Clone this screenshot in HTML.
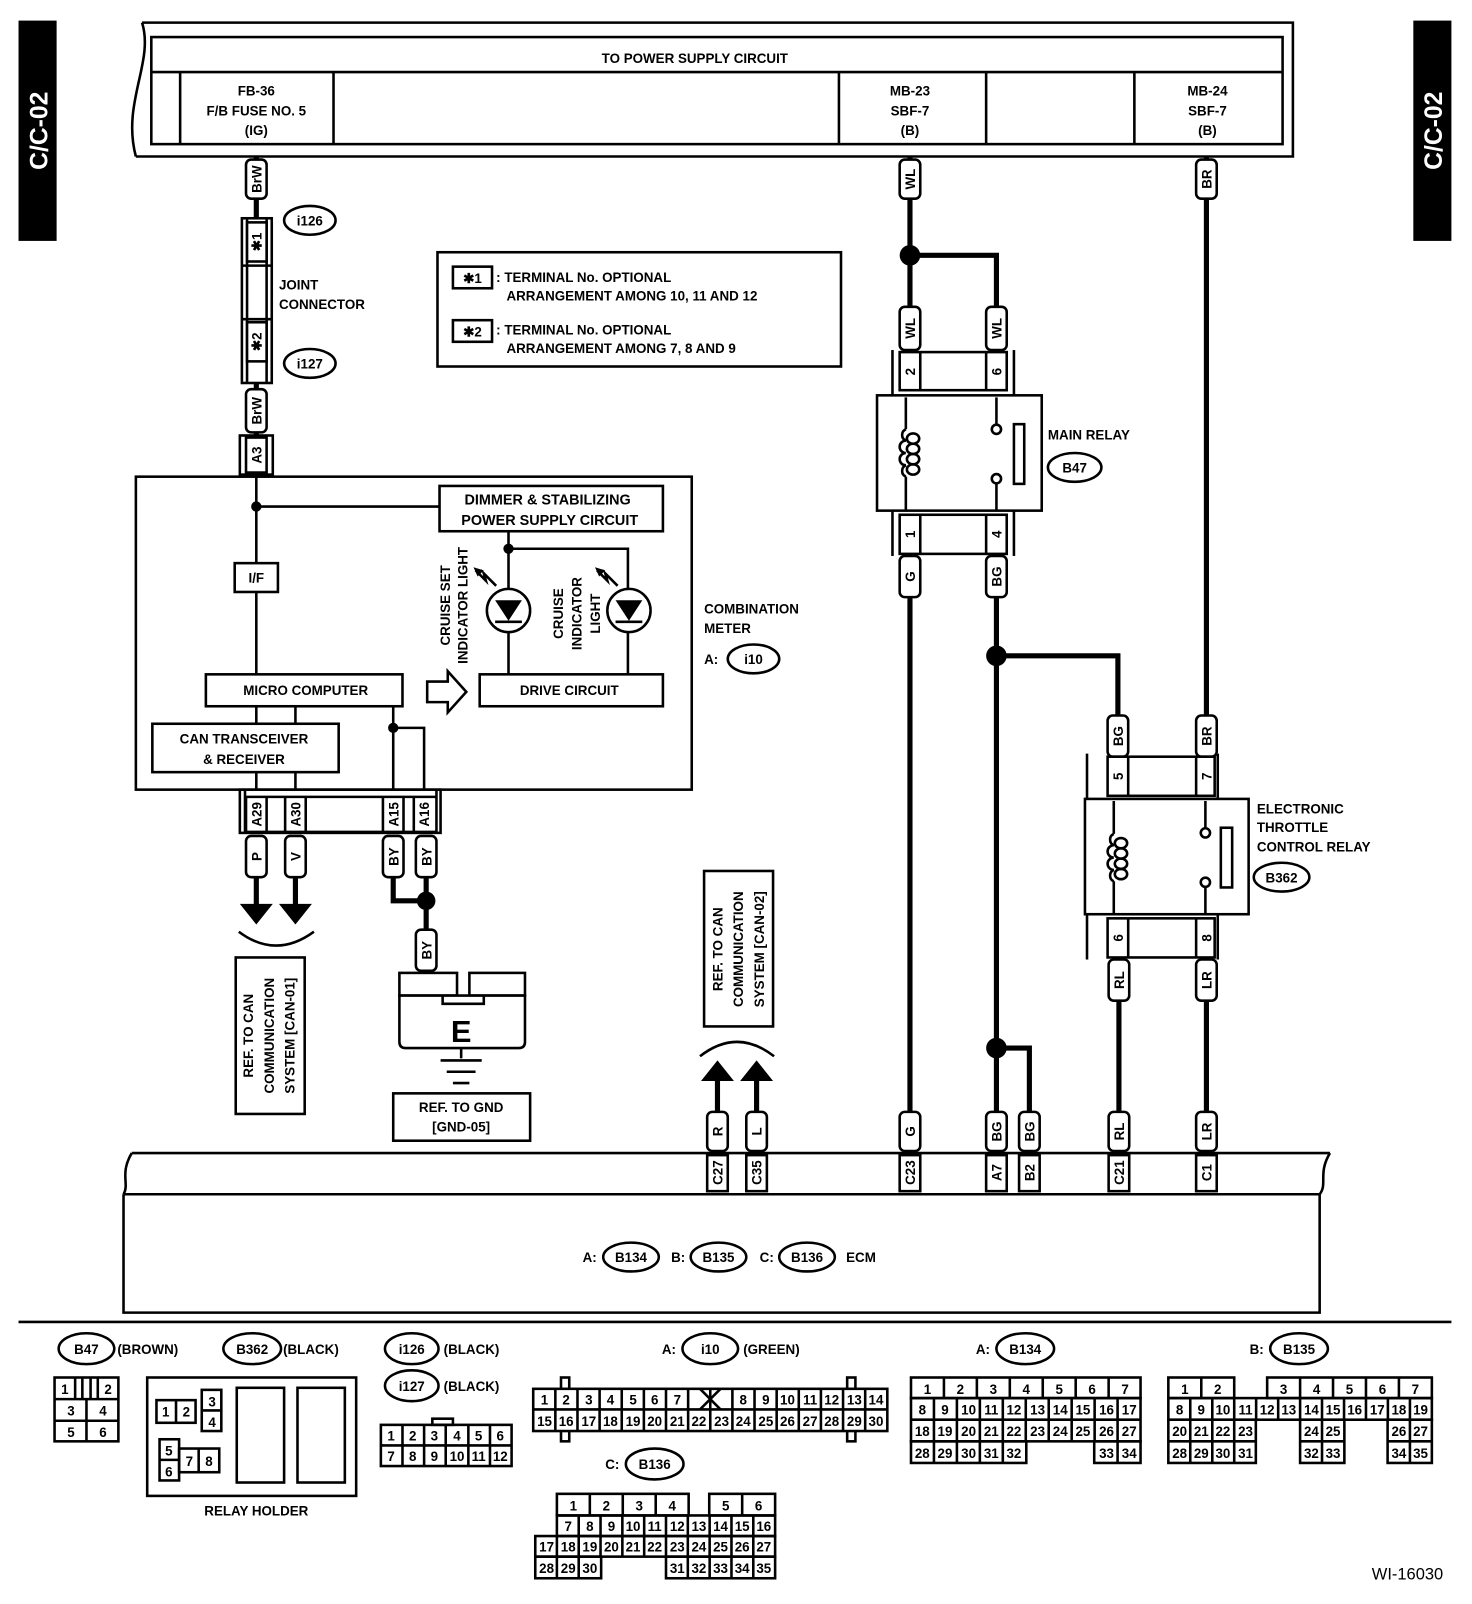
<!DOCTYPE html>
<html><head><meta charset="utf-8"><style>
html,body{margin:0;padding:0;background:#fff}
svg{display:block}
text{font-family:"Liberation Sans",sans-serif;font-weight:bold;font-size:14px;fill:#000}
.s{font-size:13px}
.m{text-anchor:middle}
.w{fill:#fff;font-size:24px}
.b{fill:none;stroke:#000;stroke-width:2.5}
.tg{fill:#fff;stroke:#000;stroke-width:2.5}
.wr{fill:none;stroke:#000;stroke-width:5}
.tn{fill:none;stroke:#000;stroke-width:2.5}
</style></head><body>
<svg width="1472" height="1604" viewBox="0 0 1430 1558" preserveAspectRatio="none" xmlns="http://www.w3.org/2000/svg">
<rect x="18" y="20" width="37" height="214" fill="#000"/>
<text class="w m" transform="translate(46,127) rotate(-90)">C/C-02</text>
<rect x="1373" y="20" width="37" height="214" fill="#000"/>
<text class="w m" transform="translate(1401,127) rotate(-90)">C/C-02</text>

<path d="M138,22 L1256,22 L1256,152 L132,152" class="b" stroke-width="3"/>
<path d="M138,22 C150,60 118,100 132,152" class="b" stroke-width="2"/>
<rect x="147" y="36" width="1099" height="104" class="b" stroke-width="3"/>
<line x1="147" y1="70" x2="1246" y2="70" class="b" stroke-width="3"/>
<g class="b"><line x1="175" y1="70" x2="175" y2="140"/><line x1="324" y1="70" x2="324" y2="140"/><line x1="815" y1="70" x2="815" y2="140"/><line x1="958" y1="70" x2="958" y2="140"/><line x1="1102" y1="70" x2="1102" y2="140"/></g>
<text class="s m" x="675" y="61">TO POWER SUPPLY CIRCUIT</text>
<text class="s m" x="249" y="93">FB-36</text><text class="s m" x="249" y="112">F/B FUSE NO. 5</text><text class="s m" x="249" y="131">(IG)</text>
<text class="s m" x="884" y="93">MB-23</text><text class="s m" x="884" y="112">SBF-7</text><text class="s m" x="884" y="131">(B)</text>
<text class="s m" x="1173" y="93">MB-24</text><text class="s m" x="1173" y="112">SBF-7</text><text class="s m" x="1173" y="131">(B)</text>

<line x1="249" y1="152" x2="249" y2="463" class="wr" stroke-width="4"/>
<rect x="239" y="155" width="20" height="38" rx="5" class="tg"/>
<text class="s m" transform="translate(254,174) rotate(-90)">BrW</text>
<rect x="235" y="212" width="29" height="160" class="tg"/>
<line x1="240" y1="212" x2="240" y2="372" class="tn"/><line x1="259" y1="212" x2="259" y2="372" class="tn"/>
<rect x="240" y="216" width="19" height="38" class="tg" stroke-width="3"/>
<text class="s m" transform="translate(254,235) rotate(-90)">✱1</text>
<line x1="235" y1="258" x2="264" y2="258" class="tn"/><line x1="235" y1="310" x2="264" y2="310" class="tn"/>
<rect x="240" y="313" width="19" height="38" class="tg" stroke-width="3"/>
<text class="s m" transform="translate(254,332) rotate(-90)">✱2</text>
<ellipse cx="301" cy="214" rx="25" ry="14" class="b"/><text class="s m" x="301" y="219">i126</text>
<ellipse cx="301" cy="353" rx="25" ry="14" class="b"/><text class="s m" x="301" y="358">i127</text>
<text class="s" x="271" y="281">JOINT</text><text class="s" x="271" y="300">CONNECTOR</text>
<rect x="239" y="378" width="20" height="42" rx="5" class="tg"/>
<text class="s m" transform="translate(254,399) rotate(-90)">BrW</text>
<rect x="233" y="423" width="32" height="38" class="tg"/>
<rect x="239" y="425" width="20" height="34" class="tg"/>
<text class="s m" transform="translate(254,442) rotate(-90)">A3</text>

<rect x="425" y="245" width="392" height="111" class="b" stroke-width="2.5"/>
<rect x="440" y="259" width="38" height="21" class="b" stroke-width="3"/><text class="s m" x="459" y="275">✱1</text>
<text class="s" x="482" y="274">: TERMINAL No. OPTIONAL</text><text class="s" x="492" y="292">ARRANGEMENT AMONG 10, 11  AND 12</text>
<rect x="440" y="311" width="38" height="21" class="b" stroke-width="3"/><text class="s m" x="459" y="327">✱2</text>
<text class="s" x="482" y="325">: TERMINAL No. OPTIONAL</text><text class="s" x="492" y="343">ARRANGEMENT AMONG 7, 8  AND 9</text>

<rect x="132" y="463" width="540" height="304" class="b" stroke-width="2.5"/>
<g class="tn">
<line x1="249" y1="461" x2="249" y2="655"/><line x1="249" y1="492" x2="427" y2="492"/>
<line x1="249" y1="686" x2="249" y2="767"/><line x1="287" y1="686" x2="287" y2="767"/>
<line x1="382" y1="686" x2="382" y2="767"/><polyline points="382,707 412,707 412,767"/>
<line x1="494" y1="516" x2="494" y2="655"/><polyline points="494,533 610,533 610,655"/>
</g>
<circle cx="249" cy="492" r="5"/><circle cx="382" cy="707" r="5"/><circle cx="494" cy="533" r="5"/>
<rect x="427" y="472" width="217" height="44" class="tg"/>
<text class="m" x="532" y="490">DIMMER &amp; STABILIZING</text><text class="m" x="534" y="510">POWER SUPPLY CIRCUIT</text>
<rect x="228" y="547" width="42" height="28" class="tg"/><text class="s m" x="249" y="566">I/F</text>
<rect x="200" y="655" width="191" height="31" class="tg"/><text class="s m" x="297" y="675">MICRO COMPUTER</text>
<rect x="148" y="703" width="181" height="47" class="tg"/><text class="s m" x="237" y="722">CAN TRANSCEIVER</text><text class="s m" x="237" y="742">&amp; RECEIVER</text>
<rect x="466" y="655" width="178" height="31" class="tg"/><text class="s m" x="553" y="675">DRIVE CIRCUIT</text>
<circle cx="494" cy="593" r="21" class="tg"/><polygon points="481,583 507,583 494,603"/><line x1="481" y1="604" x2="507" y2="604" class="tn"/>
<circle cx="611" cy="593" r="21" class="tg"/><polygon points="598,583 624,583 611,603"/><line x1="598" y1="604" x2="624" y2="604" class="tn"/>
<polygon points="415,662 435,662 435,652 453,672 435,692 435,682 415,682" class="tg"/>
<text class="s m" transform="translate(437,588) rotate(-90)">CRUISE SET</text>
<text class="s m" transform="translate(454,588) rotate(-90)">INDICATOR LIGHT</text>
<text class="s m" transform="translate(547,596) rotate(-90)">CRUISE</text>
<text class="s m" transform="translate(565,596) rotate(-90)">INDICATOR</text>
<text class="s m" transform="translate(583,596) rotate(-90)">LIGHT</text>
<polyline points="462,554 472,564 470,557 482,569" class="tn" stroke-width="2"/><polygon points="460,551 470,554 464,560"/>
<polyline points="580,554 590,564 588,557 600,569" class="tn" stroke-width="2"/><polygon points="578,551 588,554 582,560"/>
<text class="s" x="684" y="596">COMBINATION</text><text class="s" x="684" y="615">METER</text>
<text class="s" x="684" y="645">A:</text><ellipse cx="732" cy="640" rx="25" ry="14" class="b"/><text class="s m" x="732" y="645">i10</text>

<rect x="233" y="767" width="195" height="42" class="b"/>
<line x1="238" y1="767" x2="238" y2="809" class="tn"/><line x1="424" y1="767" x2="424" y2="809" class="tn"/>
<line x1="238" y1="774" x2="424" y2="774" class="tn"/><line x1="238" y1="808" x2="424" y2="808" class="tn"/>
<g class="tn"><line x1="259" y1="774" x2="259" y2="808"/><line x1="277" y1="774" x2="277" y2="808"/><line x1="297" y1="774" x2="297" y2="808"/><line x1="372" y1="774" x2="372" y2="808"/><line x1="392" y1="774" x2="392" y2="808"/><line x1="402" y1="774" x2="402" y2="808"/><line x1="239" y1="774" x2="239" y2="808"/></g>
<text class="s m" transform="translate(254,791) rotate(-90)">A29</text>
<text class="s m" transform="translate(292,791) rotate(-90)">A30</text>
<text class="s m" transform="translate(387,791) rotate(-90)">A15</text>
<text class="s m" transform="translate(417,791) rotate(-90)">A16</text>
<g class="wr"><line x1="249" y1="850" x2="249" y2="880"/><line x1="287" y1="850" x2="287" y2="880"/><polyline points="382,850 382,875 414,875"/><line x1="414" y1="850" x2="414" y2="905"/></g>
<circle cx="414" cy="875" r="9"/>
<polygon points="233,878 265,878 249,898"/><polygon points="271,878 303,878 287,898"/>
<path d="M232,905 Q268,932 305,905" class="tn"/>
<rect x="239" y="812" width="20" height="40" rx="5" class="tg"/><text class="s m" transform="translate(254,832) rotate(-90)">P</text>
<rect x="277" y="812" width="20" height="40" rx="5" class="tg"/><text class="s m" transform="translate(292,832) rotate(-90)">V</text>
<rect x="372" y="812" width="20" height="40" rx="5" class="tg"/><text class="s m" transform="translate(387,832) rotate(-90)">BY</text>
<rect x="404" y="812" width="20" height="40" rx="5" class="tg"/><text class="s m" transform="translate(419,832) rotate(-90)">BY</text>
<rect x="404" y="903" width="20" height="40" rx="5" class="tg"/><text class="s m" transform="translate(419,923) rotate(-90)">BY</text>
<rect x="229" y="930" width="67" height="152" class="b"/>
<text class="s m" transform="translate(246,1006) rotate(-90)">REF. TO CAN</text>
<text class="s m" transform="translate(266,1006) rotate(-90)">COMMUNICATION</text>
<text class="s m" transform="translate(286,1006) rotate(-90)">SYSTEM [CAN-01]</text>
<rect x="388" y="945" width="56" height="22" class="tg" stroke-width="2.5"/>
<rect x="456" y="945" width="54" height="22" class="tg" stroke-width="2.5"/>
<path d="M388,967 L510,967 L510,1012 Q510,1018 504,1018 L394,1018 Q388,1018 388,1012 Z" class="tg" stroke-width="2.5"/>
<path d="M430,967 L430,975 L470,975 L470,967" class="tn"/>
<text x="448" y="1012" class="m" style="font-size:30px">E</text>
<line x1="448" y1="1018" x2="448" y2="1028" class="tn"/>
<line x1="428" y1="1030" x2="468" y2="1030" class="tn"/><line x1="434" y1="1041" x2="462" y2="1041" class="tn"/><line x1="440" y1="1052" x2="456" y2="1052" class="tn"/>
<rect x="382" y="1062" width="133" height="46" class="b"/>
<text class="s m" x="448" y="1080">REF. TO GND</text><text class="s m" x="448" y="1099">[GND-05]</text>

<rect x="684" y="846" width="67" height="151" class="b"/>
<text class="s m" transform="translate(702,922) rotate(-90)">REF. TO CAN</text>
<text class="s m" transform="translate(722,922) rotate(-90)">COMMUNICATION</text>
<text class="s m" transform="translate(742,922) rotate(-90)">SYSTEM [CAN-02]</text>
<path d="M680,1026 Q716,998 752,1026" class="tn"/>
<g class="wr"><line x1="697" y1="1045" x2="697" y2="1080"/><line x1="735" y1="1045" x2="735" y2="1080"/></g>
<polygon points="681,1050 713,1050 697,1030"/><polygon points="719,1050 751,1050 735,1030"/>

<g class="wr">
<line x1="884" y1="152" x2="884" y2="300"/><polyline points="884,248 968,248 968,300"/>
<line x1="1172" y1="152" x2="1172" y2="697"/>
<line x1="884" y1="580" x2="884" y2="1080"/>
<line x1="968" y1="580" x2="968" y2="1080"/>
<polyline points="968,637 1086,637 1086,697"/>
<polyline points="968,1018 1000,1018 1000,1080"/>
<line x1="1087" y1="970" x2="1087" y2="1080"/><line x1="1172" y1="970" x2="1172" y2="1080"/>
</g>
<circle cx="884" cy="248" r="10"/><circle cx="968" cy="637" r="10"/><circle cx="968" cy="1018" r="10"/>
<g>
<rect x="874" y="155" width="20" height="38" rx="5" class="tg"/><text class="s m" transform="translate(889,174) rotate(-90)">WL</text>
<rect x="1162" y="155" width="20" height="38" rx="5" class="tg"/><text class="s m" transform="translate(1177,174) rotate(-90)">BR</text>
<rect x="874" y="298" width="20" height="42" rx="5" class="tg"/><text class="s m" transform="translate(889,319) rotate(-90)">WL</text>
<rect x="958" y="298" width="20" height="42" rx="5" class="tg"/><text class="s m" transform="translate(973,319) rotate(-90)">WL</text>
<rect x="874" y="540" width="20" height="40" rx="5" class="tg"/><text class="s m" transform="translate(889,560) rotate(-90)">G</text>
<rect x="958" y="540" width="20" height="40" rx="5" class="tg"/><text class="s m" transform="translate(973,560) rotate(-90)">BG</text>
<rect x="1076" y="695" width="20" height="40" rx="5" class="tg"/><text class="s m" transform="translate(1091,715) rotate(-90)">BG</text>
<rect x="1162" y="695" width="20" height="40" rx="5" class="tg"/><text class="s m" transform="translate(1177,715) rotate(-90)">BR</text>
<rect x="1077" y="932" width="20" height="40" rx="5" class="tg"/><text class="s m" transform="translate(1092,952) rotate(-90)">RL</text>
<rect x="1162" y="932" width="20" height="40" rx="5" class="tg"/><text class="s m" transform="translate(1177,952) rotate(-90)">LR</text>
<rect x="687" y="1080" width="20" height="38" rx="5" class="tg"/><text class="s m" transform="translate(702,1099) rotate(-90)">R</text>
<rect x="725" y="1080" width="20" height="38" rx="5" class="tg"/><text class="s m" transform="translate(740,1099) rotate(-90)">L</text>
<rect x="874" y="1080" width="20" height="38" rx="5" class="tg"/><text class="s m" transform="translate(889,1099) rotate(-90)">G</text>
<rect x="958" y="1080" width="20" height="38" rx="5" class="tg"/><text class="s m" transform="translate(973,1099) rotate(-90)">BG</text>
<rect x="990" y="1080" width="20" height="38" rx="5" class="tg"/><text class="s m" transform="translate(1005,1099) rotate(-90)">BG</text>
<rect x="1077" y="1080" width="20" height="38" rx="5" class="tg"/><text class="s m" transform="translate(1092,1099) rotate(-90)">RL</text>
<rect x="1162" y="1080" width="20" height="38" rx="5" class="tg"/><text class="s m" transform="translate(1177,1099) rotate(-90)">LR</text>
</g>
<!-- main relay -->
<line x1="867" y1="340" x2="867" y2="384" class="tn"/><line x1="985" y1="340" x2="985" y2="384" class="tn"/>
<rect x="874" y="342" width="104" height="37" class="tg"/><line x1="894" y1="342" x2="894" y2="379" class="tn"/><line x1="958" y1="342" x2="958" y2="379" class="tn"/>
<text class="s m" transform="translate(889,361) rotate(-90)">2</text><text class="s m" transform="translate(973,361) rotate(-90)">6</text>
<rect x="852" y="384" width="160" height="112" class="tg"/>
<line x1="867" y1="496" x2="867" y2="540" class="tn"/><line x1="985" y1="496" x2="985" y2="540" class="tn"/>
<rect x="874" y="500" width="104" height="38" class="tg"/><line x1="894" y1="500" x2="894" y2="538" class="tn"/><line x1="958" y1="500" x2="958" y2="538" class="tn"/>
<text class="s m" transform="translate(889,519) rotate(-90)">1</text><text class="s m" transform="translate(973,519) rotate(-90)">4</text>
<path d="M880,386 V417 M880,463 V496" class="tn"/>
<path d="M880,417 a6,6 0 0 0 0,11 a6,6 0 0 0 0,12 a6,6 0 0 0 0,12 a6,6 0 0 0 0,11" class="tn"/>
<g class="tn"><ellipse cx="887" cy="426" rx="6" ry="5"/><ellipse cx="887" cy="436" rx="6" ry="5"/><ellipse cx="887" cy="446" rx="6" ry="5"/><ellipse cx="887" cy="456" rx="6" ry="5"/></g>
<line x1="968" y1="386" x2="968" y2="412" class="tn"/><circle cx="968" cy="417" r="4.5" class="tg"/>
<line x1="968" y1="470" x2="968" y2="496" class="tn"/><circle cx="968" cy="465" r="4.5" class="tg"/>
<rect x="985" y="412" width="10" height="58" class="tg"/>
<text class="s" x="1018" y="427">MAIN RELAY</text>
<ellipse cx="1044" cy="454" rx="26" ry="14" class="b"/><text class="s m" x="1044" y="459">B47</text>
<!-- ETC relay -->
<line x1="1056" y1="732" x2="1056" y2="776" class="tn"/><line x1="1183" y1="732" x2="1183" y2="776" class="tn"/>
<rect x="1076" y="735" width="104" height="38" class="tg"/><line x1="1096" y1="735" x2="1096" y2="773" class="tn"/><line x1="1162" y1="735" x2="1162" y2="773" class="tn"/>
<text class="s m" transform="translate(1091,754) rotate(-90)">5</text><text class="s m" transform="translate(1177,754) rotate(-90)">7</text>
<rect x="1054" y="776" width="159" height="112" class="tg"/>
<line x1="1056" y1="888" x2="1056" y2="932" class="tn"/><line x1="1183" y1="888" x2="1183" y2="932" class="tn"/>
<rect x="1076" y="892" width="104" height="38" class="tg"/><line x1="1096" y1="892" x2="1096" y2="930" class="tn"/><line x1="1162" y1="892" x2="1162" y2="930" class="tn"/>
<text class="s m" transform="translate(1091,911) rotate(-90)">6</text><text class="s m" transform="translate(1177,911) rotate(-90)">8</text>
<path d="M1082,778 V810 M1082,856 V888" class="tn"/>
<path d="M1082,810 a6,6 0 0 0 0,11 a6,6 0 0 0 0,12 a6,6 0 0 0 0,12 a6,6 0 0 0 0,11" class="tn"/>
<g class="tn"><ellipse cx="1089" cy="819" rx="6" ry="5"/><ellipse cx="1089" cy="829" rx="6" ry="5"/><ellipse cx="1089" cy="839" rx="6" ry="5"/><ellipse cx="1089" cy="849" rx="6" ry="5"/></g>
<line x1="1171" y1="778" x2="1171" y2="804" class="tn"/><circle cx="1171" cy="809" r="4.5" class="tg"/>
<line x1="1171" y1="862" x2="1171" y2="888" class="tn"/><circle cx="1171" cy="857" r="4.5" class="tg"/>
<rect x="1186" y="804" width="11" height="58" class="tg"/>
<text class="s" x="1221" y="790">ELECTRONIC</text><text class="s" x="1221" y="808">THROTTLE</text><text class="s" x="1221" y="827">CONTROL RELAY</text>
<ellipse cx="1245" cy="852" rx="27" ry="14" class="b"/><text class="s m" x="1245" y="857">B362</text>

<!-- ECM -->
<path d="M128,1120 L1292,1120" class="b" stroke-width="3"/>
<path d="M128,1120 C116,1140 126,1150 120,1160" class="b"/>
<path d="M1292,1120 C1280,1140 1290,1150 1282,1160" class="b"/>
<line x1="120" y1="1160" x2="1282" y2="1160" class="b" stroke-width="3"/>
<path d="M120,1160 L120,1275 L1282,1275 L1282,1160" class="b" stroke-width="3"/>
<g>
<rect x="687" y="1122" width="20" height="35" class="tg"/><text class="s m" transform="translate(702,1139) rotate(-90)">C27</text>
<rect x="725" y="1122" width="20" height="35" class="tg"/><text class="s m" transform="translate(740,1139) rotate(-90)">C35</text>
<rect x="874" y="1122" width="20" height="35" class="tg"/><text class="s m" transform="translate(889,1139) rotate(-90)">C23</text>
<rect x="958" y="1122" width="20" height="35" class="tg"/><text class="s m" transform="translate(973,1139) rotate(-90)">A7</text>
<rect x="990" y="1122" width="20" height="35" class="tg"/><text class="s m" transform="translate(1005,1139) rotate(-90)">B2</text>
<rect x="1077" y="1122" width="20" height="35" class="tg"/><text class="s m" transform="translate(1092,1139) rotate(-90)">C21</text>
<rect x="1162" y="1122" width="20" height="35" class="tg"/><text class="s m" transform="translate(1177,1139) rotate(-90)">C1</text>
</g>
<text class="s" x="566" y="1226">A:</text><ellipse cx="613" cy="1221" rx="27" ry="14" class="b"/><text class="s m" x="613" y="1226">B134</text>
<text class="s" x="652" y="1226">B:</text><ellipse cx="698" cy="1221" rx="27" ry="14" class="b"/><text class="s m" x="698" y="1226">B135</text>
<text class="s" x="738" y="1226">C:</text><ellipse cx="784" cy="1221" rx="27" ry="14" class="b"/><text class="s m" x="784" y="1226">B136</text>
<text class="s" x="822" y="1226">ECM</text>

<line x1="18" y1="1284" x2="1410" y2="1284" class="b" stroke-width="3"/>

<g class="s">
<ellipse cx="84" cy="1310" rx="27" ry="15" class="b"/><text class="s m" x="84" y="1315">B47</text><text class="s" x="114" y="1315">(BROWN)</text>
<ellipse cx="245" cy="1310" rx="28" ry="15" class="b"/><text class="s m" x="245" y="1315">B362</text><text class="s" x="275" y="1315">(BLACK)</text>
<ellipse cx="400" cy="1310" rx="26" ry="15" class="b"/><text class="s m" x="400" y="1315">i126</text><text class="s" x="431" y="1315">(BLACK)</text>
<ellipse cx="400" cy="1346" rx="26" ry="15" class="b"/><text class="s m" x="400" y="1351">i127</text><text class="s" x="431" y="1351">(BLACK)</text>
<text class="s" x="643" y="1315">A:</text><ellipse cx="690" cy="1310" rx="27" ry="15" class="b"/><text class="s m" x="690" y="1315">i10</text><text class="s" x="722" y="1315">(GREEN)</text>
<text class="s" x="948" y="1315">A:</text><ellipse cx="996" cy="1310" rx="28" ry="15" class="b"/><text class="s m" x="996" y="1315">B134</text>
<text class="s" x="1214" y="1315">B:</text><ellipse cx="1262" cy="1310" rx="28" ry="15" class="b"/><text class="s m" x="1262" y="1315">B135</text>
<text class="s" x="588" y="1427">C:</text><ellipse cx="636" cy="1422" rx="28" ry="15" class="b"/><text class="s m" x="636" y="1427">B136</text>
</g>
<g class="tn">
<rect x="53" y="1338" width="62" height="62"/><line x1="53" y1="1359" x2="115" y2="1359"/><line x1="53" y1="1380" x2="115" y2="1380"/>
<line x1="84" y1="1359" x2="84" y2="1400"/><line x1="73" y1="1338" x2="73" y2="1359"/><line x1="95" y1="1338" x2="95" y2="1359"/>
<line x1="80" y1="1338" x2="80" y2="1359"/><line x1="88" y1="1338" x2="88" y2="1359"/>
</g>
<text class="s m" x="63" y="1354">1</text><text class="s m" x="105" y="1354">2</text><text class="s m" x="69" y="1375">3</text><text class="s m" x="100" y="1375">4</text><text class="s m" x="69" y="1396">5</text><text class="s m" x="100" y="1396">6</text>
<g class="tn">
<rect x="143" y="1338" width="203" height="115"/>
<rect x="152" y="1360" width="38" height="22"/><line x1="171" y1="1360" x2="171" y2="1382"/>
<rect x="196" y="1350" width="19" height="40"/><line x1="196" y1="1370" x2="215" y2="1370"/>
<rect x="155" y="1398" width="19" height="40"/><line x1="155" y1="1418" x2="174" y2="1418"/>
<rect x="174" y="1407" width="39" height="23"/><line x1="193" y1="1407" x2="193" y2="1430"/>
<rect x="230" y="1348" width="46" height="92"/><rect x="289" y="1348" width="46" height="92"/>
</g>
<text class="s m" x="161" y="1376">1</text><text class="s m" x="181" y="1376">2</text><text class="s m" x="206" y="1366">3</text><text class="s m" x="206" y="1386">4</text>
<text class="s m" x="164" y="1414">5</text><text class="s m" x="164" y="1434">6</text><text class="s m" x="184" y="1424">7</text><text class="s m" x="203" y="1424">8</text>
<text class="s m" x="249" y="1472">RELAY HOLDER</text>
<g class="tn"><rect x="420" y="1378" width="20" height="6"/><rect x="370" y="1384" width="127" height="40"/><line x1="370" y1="1404" x2="497" y2="1404"/>
<line x1="391" y1="1384" x2="391" y2="1424"/><line x1="412" y1="1384" x2="412" y2="1424"/><line x1="433" y1="1384" x2="433" y2="1424"/><line x1="455" y1="1384" x2="455" y2="1424"/><line x1="476" y1="1384" x2="476" y2="1424"/></g>
<g><text class="m s" x="380" y="1399">1</text><text class="m s" x="401" y="1399">2</text><text class="m s" x="422" y="1399">3</text><text class="m s" x="444" y="1399">4</text><text class="m s" x="465" y="1399">5</text><text class="m s" x="486" y="1399">6</text>
<text class="m s" x="380" y="1419">7</text><text class="m s" x="401" y="1419">8</text><text class="m s" x="422" y="1419">9</text><text class="m s" x="444" y="1419">10</text><text class="m s" x="465" y="1419">11</text><text class="m s" x="486" y="1419">12</text></g>
<g class="tn">
<rect x="545" y="1338" width="8" height="62" fill="#fff"/><rect x="823" y="1338" width="8" height="62" fill="#fff"/>
<rect x="518" y="1349" width="344" height="41" fill="#fff"/><line x1="518" y1="1369" x2="862" y2="1369"/>
<line x1="539.5" y1="1349" x2="539.5" y2="1390"/><line x1="561" y1="1349" x2="561" y2="1390"/><line x1="582.5" y1="1349" x2="582.5" y2="1390"/><line x1="604" y1="1349" x2="604" y2="1390"/><line x1="625.5" y1="1349" x2="625.5" y2="1390"/><line x1="647" y1="1349" x2="647" y2="1390"/><line x1="668.5" y1="1349" x2="668.5" y2="1390"/><line x1="690" y1="1349" x2="690" y2="1390"/><line x1="711.5" y1="1349" x2="711.5" y2="1390"/><line x1="733" y1="1349" x2="733" y2="1390"/><line x1="754.5" y1="1349" x2="754.5" y2="1390"/><line x1="776" y1="1349" x2="776" y2="1390"/><line x1="797.5" y1="1349" x2="797.5" y2="1390"/><line x1="819" y1="1349" x2="819" y2="1390"/><line x1="840.5" y1="1349" x2="840.5" y2="1390"/>
<line x1="680" y1="1349" x2="700" y2="1369"/><line x1="700" y1="1349" x2="680" y2="1369"/>
</g>
<g>
<text class="m s" x="529" y="1364">1</text><text class="m s" x="550" y="1364">2</text><text class="m s" x="572" y="1364">3</text><text class="m s" x="593" y="1364">4</text><text class="m s" x="615" y="1364">5</text><text class="m s" x="636" y="1364">6</text><text class="m s" x="658" y="1364">7</text>
<text class="m s" x="722" y="1364">8</text><text class="m s" x="744" y="1364">9</text><text class="m s" x="765" y="1364">10</text><text class="m s" x="787" y="1364">11</text><text class="m s" x="808" y="1364">12</text><text class="m s" x="830" y="1364">13</text><text class="m s" x="851" y="1364">14</text>
<text class="m s" x="529" y="1385">15</text><text class="m s" x="550" y="1385">16</text><text class="m s" x="572" y="1385">17</text><text class="m s" x="593" y="1385">18</text><text class="m s" x="615" y="1385">19</text><text class="m s" x="636" y="1385">20</text><text class="m s" x="658" y="1385">21</text><text class="m s" x="679" y="1385">22</text><text class="m s" x="701" y="1385">23</text><text class="m s" x="722" y="1385">24</text><text class="m s" x="744" y="1385">25</text><text class="m s" x="765" y="1385">26</text><text class="m s" x="787" y="1385">27</text><text class="m s" x="808" y="1385">28</text><text class="m s" x="830" y="1385">29</text><text class="m s" x="851" y="1385">30</text>
</g>
<g class="tn">
<rect x="541" y="1451" width="128" height="21"/><line x1="573" y1="1451" x2="573" y2="1472"/><line x1="605" y1="1451" x2="605" y2="1472"/><line x1="637" y1="1451" x2="637" y2="1472"/>
<rect x="689" y="1451" width="64" height="21"/><line x1="721" y1="1451" x2="721" y2="1472"/>
<rect x="541" y="1472" width="212" height="20"/>
<rect x="520" y="1492" width="233" height="20"/>
<rect x="520" y="1512" width="64" height="21"/><rect x="647" y="1512" width="106" height="21"/>
<line x1="562.2" y1="1472" x2="562.2" y2="1533"/><line x1="541" y1="1492" x2="541" y2="1533"/><line x1="583.4" y1="1472" x2="583.4" y2="1512"/><line x1="604.6" y1="1472" x2="604.6" y2="1512"/><line x1="625.8" y1="1472" x2="625.8" y2="1512"/><line x1="647" y1="1472" x2="647" y2="1512"/><line x1="668.2" y1="1472" x2="668.2" y2="1533"/><line x1="689.4" y1="1472" x2="689.4" y2="1533"/><line x1="710.6" y1="1472" x2="710.6" y2="1533"/><line x1="731.8" y1="1472" x2="731.8" y2="1533"/>
</g>
<g>
<text class="m s" x="557" y="1467">1</text><text class="m s" x="589" y="1467">2</text><text class="m s" x="621" y="1467">3</text><text class="m s" x="653" y="1467">4</text><text class="m s" x="705" y="1467">5</text><text class="m s" x="737" y="1467">6</text>
<text class="m s" x="552" y="1487">7</text><text class="m s" x="573" y="1487">8</text><text class="m s" x="594" y="1487">9</text><text class="m s" x="615" y="1487">10</text><text class="m s" x="636" y="1487">11</text><text class="m s" x="658" y="1487">12</text><text class="m s" x="679" y="1487">13</text><text class="m s" x="700" y="1487">14</text><text class="m s" x="721" y="1487">15</text><text class="m s" x="742" y="1487">16</text>
<text class="m s" x="531" y="1507">17</text><text class="m s" x="552" y="1507">18</text><text class="m s" x="573" y="1507">19</text><text class="m s" x="594" y="1507">20</text><text class="m s" x="615" y="1507">21</text><text class="m s" x="636" y="1507">22</text><text class="m s" x="658" y="1507">23</text><text class="m s" x="679" y="1507">24</text><text class="m s" x="700" y="1507">25</text><text class="m s" x="721" y="1507">26</text><text class="m s" x="742" y="1507">27</text>
<text class="m s" x="531" y="1528">28</text><text class="m s" x="552" y="1528">29</text><text class="m s" x="573" y="1528">30</text><text class="m s" x="658" y="1528">31</text><text class="m s" x="679" y="1528">32</text><text class="m s" x="700" y="1528">33</text><text class="m s" x="721" y="1528">34</text><text class="m s" x="742" y="1528">35</text>
</g>
<g class="tn">
<rect x="885" y="1338" width="223" height="20"/><line x1="917" y1="1338" x2="917" y2="1358"/><line x1="949" y1="1338" x2="949" y2="1358"/><line x1="981" y1="1338" x2="981" y2="1358"/><line x1="1013" y1="1338" x2="1013" y2="1358"/><line x1="1045" y1="1338" x2="1045" y2="1358"/><line x1="1077" y1="1338" x2="1077" y2="1358"/>
<rect x="885" y="1358" width="223" height="42"/><line x1="885" y1="1379" x2="1108" y2="1379"/>
<rect x="885" y="1400" width="112" height="21"/><rect x="1063" y="1400" width="45" height="21"/>
<line x1="907.3" y1="1358" x2="907.3" y2="1421"/><line x1="929.6" y1="1358" x2="929.6" y2="1421"/><line x1="951.9" y1="1358" x2="951.9" y2="1421"/><line x1="974.2" y1="1358" x2="974.2" y2="1421"/><line x1="996.5" y1="1358" x2="996.5" y2="1400"/><line x1="1018.8" y1="1358" x2="1018.8" y2="1400"/><line x1="1041.1" y1="1358" x2="1041.1" y2="1400"/><line x1="1063.4" y1="1358" x2="1063.4" y2="1400"/><line x1="1085.7" y1="1358" x2="1085.7" y2="1421"/>
</g>
<g>
<text class="m s" x="901" y="1354">1</text><text class="m s" x="933" y="1354">2</text><text class="m s" x="965" y="1354">3</text><text class="m s" x="997" y="1354">4</text><text class="m s" x="1029" y="1354">5</text><text class="m s" x="1061" y="1354">6</text><text class="m s" x="1093" y="1354">7</text>
<text class="m s" x="896" y="1374">8</text><text class="m s" x="918" y="1374">9</text><text class="m s" x="941" y="1374">10</text><text class="m s" x="963" y="1374">11</text><text class="m s" x="985" y="1374">12</text><text class="m s" x="1008" y="1374">13</text><text class="m s" x="1030" y="1374">14</text><text class="m s" x="1052" y="1374">15</text><text class="m s" x="1075" y="1374">16</text><text class="m s" x="1097" y="1374">17</text>
<text class="m s" x="896" y="1395">18</text><text class="m s" x="918" y="1395">19</text><text class="m s" x="941" y="1395">20</text><text class="m s" x="963" y="1395">21</text><text class="m s" x="985" y="1395">22</text><text class="m s" x="1008" y="1395">23</text><text class="m s" x="1030" y="1395">24</text><text class="m s" x="1052" y="1395">25</text><text class="m s" x="1075" y="1395">26</text><text class="m s" x="1097" y="1395">27</text>
<text class="m s" x="896" y="1416">28</text><text class="m s" x="918" y="1416">29</text><text class="m s" x="941" y="1416">30</text><text class="m s" x="963" y="1416">31</text><text class="m s" x="985" y="1416">32</text><text class="m s" x="1075" y="1416">33</text><text class="m s" x="1097" y="1416">34</text>
</g>
<g class="tn">
<rect x="1135" y="1338" width="64" height="20"/><line x1="1167" y1="1338" x2="1167" y2="1358"/>
<rect x="1231" y="1338" width="160" height="20"/><line x1="1263" y1="1338" x2="1263" y2="1358"/><line x1="1295" y1="1338" x2="1295" y2="1358"/><line x1="1327" y1="1338" x2="1327" y2="1358"/><line x1="1359" y1="1338" x2="1359" y2="1358"/>
<rect x="1135" y="1358" width="256" height="21"/>
<rect x="1135" y="1379" width="85" height="42"/><rect x="1263" y="1379" width="43" height="42"/><rect x="1348" y="1379" width="43" height="42"/>
<line x1="1135" y1="1400" x2="1220" y2="1400"/><line x1="1263" y1="1400" x2="1306" y2="1400"/><line x1="1348" y1="1400" x2="1391" y2="1400"/>
<line x1="1156.3" y1="1358" x2="1156.3" y2="1421"/><line x1="1177.7" y1="1358" x2="1177.7" y2="1421"/><line x1="1199" y1="1358" x2="1199" y2="1421"/><line x1="1220.3" y1="1358" x2="1220.3" y2="1379"/><line x1="1241.7" y1="1358" x2="1241.7" y2="1379"/><line x1="1263" y1="1358" x2="1263" y2="1379"/><line x1="1284.3" y1="1358" x2="1284.3" y2="1421"/><line x1="1305.7" y1="1358" x2="1305.7" y2="1379"/><line x1="1327" y1="1358" x2="1327" y2="1379"/><line x1="1348.3" y1="1358" x2="1348.3" y2="1379"/><line x1="1369.7" y1="1358" x2="1369.7" y2="1421"/>
</g>
<g>
<text class="m s" x="1151" y="1354">1</text><text class="m s" x="1183" y="1354">2</text><text class="m s" x="1247" y="1354">3</text><text class="m s" x="1279" y="1354">4</text><text class="m s" x="1311" y="1354">5</text><text class="m s" x="1343" y="1354">6</text><text class="m s" x="1375" y="1354">7</text>
<text class="m s" x="1146" y="1374">8</text><text class="m s" x="1167" y="1374">9</text><text class="m s" x="1188" y="1374">10</text><text class="m s" x="1210" y="1374">11</text><text class="m s" x="1231" y="1374">12</text><text class="m s" x="1252" y="1374">13</text><text class="m s" x="1274" y="1374">14</text><text class="m s" x="1295" y="1374">15</text><text class="m s" x="1316" y="1374">16</text><text class="m s" x="1338" y="1374">17</text><text class="m s" x="1359" y="1374">18</text><text class="m s" x="1380" y="1374">19</text>
<text class="m s" x="1146" y="1395">20</text><text class="m s" x="1167" y="1395">21</text><text class="m s" x="1188" y="1395">22</text><text class="m s" x="1210" y="1395">23</text><text class="m s" x="1274" y="1395">24</text><text class="m s" x="1295" y="1395">25</text><text class="m s" x="1359" y="1395">26</text><text class="m s" x="1380" y="1395">27</text>
<text class="m s" x="1146" y="1416">28</text><text class="m s" x="1167" y="1416">29</text><text class="m s" x="1188" y="1416">30</text><text class="m s" x="1210" y="1416">31</text><text class="m s" x="1274" y="1416">32</text><text class="m s" x="1295" y="1416">33</text><text class="m s" x="1359" y="1416">34</text><text class="m s" x="1380" y="1416">35</text>
</g>
<text class="s" x="1402" y="1534" style="text-anchor:end;font-weight:normal;font-size:16px">WI-16030</text>
</svg>
</body></html>
